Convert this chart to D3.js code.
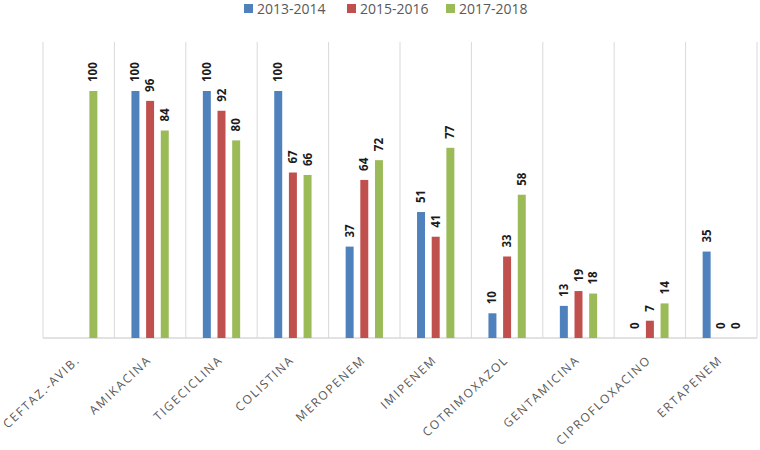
<!DOCTYPE html>
<html>
<head>
<meta charset="utf-8">
<script src="https://cdn.jsdelivr.net/npm/d3@7"></script>
<style>
html,body{margin:0;padding:0;background:#fff;}
svg{display:block;}
</style>
</head>
<body>
<svg id="chart" width="760" height="450"></svg>
<script>
const categories = ["CEFTAZ.-AVIB.","AMIKACINA","TIGECICLINA","COLISTINA","MEROPENEM","IMIPENEM","COTRIMOXAZOL","GENTAMICINA","CIPROFLOXACINO","ERTAPENEM"];
const seriesNames = ["2013-2014","2015-2016","2017-2018"];
const s2013 = [null,100,100,100,37,51,10,13,0,35];
const s2015 = [null,96,92,67,64,41,33,19,7,0];
const s2017 = [100,84,80,66,72,77,58,18,14,0];
const colors = ["#4f81bd","#c0504d","#9bbb59"];

const seriesValues = [s2013, s2015, s2017];
const svg = d3.select("#chart");
const plotLeft = 43, plotRight = 757, plotTop = 42, plotBottom = 338;

const x0 = d3.scaleBand().domain(categories).range([plotLeft, plotRight]).padding(0);
const y = d3.scaleLinear().domain([0, 100]).range([plotBottom, 91]);
const x1 = d3.scaleBand().domain(seriesNames).range([-22, 22]).paddingInner(0.456).paddingOuter(0.228);

// vertical separators
const bounds = categories.map(c => x0(c)).concat([plotRight]);
svg.append("g").selectAll("line").data(bounds).join("line")
  .attr("x1", d => d).attr("x2", d => d)
  .attr("y1", plotTop).attr("y2", plotBottom)
  .attr("stroke", "#d9d9d9").attr("stroke-width", 1);

// baseline
svg.append("line").attr("x1", plotLeft).attr("x2", plotRight).attr("y1", plotBottom).attr("y2", plotBottom)
  .attr("stroke", "#d9d9d9").attr("stroke-width", 1.5);

// bars
const data = [];
categories.forEach((c, i) => {
  seriesNames.forEach((s, j) => {
    const v = seriesValues[j][i];
    if (v !== null) data.push({c, s, j, v});
  });
});
const cx = d => x0(d.c) + x0.bandwidth() / 2 + x1(d.s);
svg.append("g").selectAll("rect").data(data).join("rect")
  .attr("x", d => cx(d))
  .attr("y", d => y(d.v))
  .attr("width", x1.bandwidth())
  .attr("height", d => plotBottom - y(d.v))
  .attr("fill", d => colors[d.j]);

// value labels
svg.append("g").selectAll("text").data(data).join("text")
  .attr("transform", d => `translate(${cx(d) + x1.bandwidth()/2 + 4},${y(d.v) - 9}) rotate(-90)`)
  .attr("text-anchor", "start")
  .attr("font-family", "'Open Sans', 'Liberation Sans', sans-serif")
  .attr("font-size", 11.5).attr("font-weight", "bold").attr("fill", "#1a1a1a")
  .text(d => d.v);

// x axis labels
const xAxis = d3.axisBottom(x0).tickSize(0).tickPadding(0);
const gx = svg.append("g").attr("transform", `translate(0,${plotBottom})`).call(xAxis);
gx.select(".domain").remove();
gx.selectAll(".tick text")
  .attr("font-family", "'Open Sans', 'Liberation Sans', sans-serif")
  .attr("font-size", 12)
  .attr("letter-spacing", "1.7px")
  .attr("fill", "#595959")
  .attr("text-anchor", "end")
  .attr("dy", null).attr("y", null)
  .attr("transform", "translate(2,23) rotate(-43)");

// legend
const legendX = [244, 347, 446];
const lg = svg.append("g").selectAll("g").data(seriesNames).join("g")
  .attr("transform", (d, i) => `translate(${legendX[i]},4)`);
lg.append("rect").attr("width", 9).attr("height", 9).attr("fill", (d, i) => colors[i]);
lg.append("text").attr("x", 13).attr("y", 10)
  .attr("font-family", "'Open Sans', 'Liberation Sans', sans-serif")
  .attr("font-size", 14).attr("fill", "#595959")
  .text(d => d);
</script>
</body>
</html>
